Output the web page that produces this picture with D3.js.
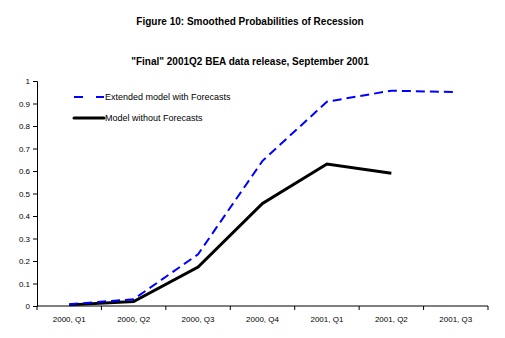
<!DOCTYPE html>
<html>
<head>
<meta charset="utf-8">
<script src="https://cdn.jsdelivr.net/npm/d3@7"></script>
<style>
  body { margin: 0; background: #fff; }
  text { font-family: "Liberation Sans", Arial, sans-serif; }
</style>
</head>
<body>
<svg id="chart" width="505" height="338"></svg>
<script>
// quarters on the x axis
const quarters = ["2000, Q1", "2000, Q2", "2000, Q3", "2000, Q4", "2001, Q1", "2001, Q2", "2001, Q3"];
// smoothed probabilities
const extendedModel = [0.008, 0.03, 0.23, 0.645, 0.908, 0.957, 0.951];
const modelNoForecast = [0.005, 0.02, 0.173, 0.456, 0.631, 0.59, null];
const yTicks = [0, 0.1, 0.2, 0.3, 0.4, 0.5, 0.6, 0.7, 0.8, 0.9, 1];

const svg = d3.select("#chart");
const plotLeft = 37, plotRight = 488, plotTop = 81, plotBottom = 306;

const x = d3.scaleBand().domain(quarters).range([plotLeft, plotRight]);
const y = d3.scaleLinear().domain([0, 1]).range([plotBottom, plotTop]);

// titles
svg.append("text").attr("x", 250).attr("y", 25).attr("text-anchor", "middle")
  .attr("font-size", 10).attr("font-weight", "bold")
  .text("Figure 10: Smoothed Probabilities of Recession");
svg.append("text").attr("x", 250).attr("y", 65).attr("text-anchor", "middle")
  .attr("font-size", 10).attr("font-weight", "bold")
  .text("\"Final\" 2001Q2 BEA data release, September 2001");

// y axis
const yAxis = svg.append("g").attr("transform", `translate(${plotLeft},0)`)
  .call(d3.axisLeft(y).tickValues(yTicks).tickSize(4).tickFormat(d3.format("")));
yAxis.select(".domain").attr("stroke", "#000");
yAxis.selectAll("text").attr("font-size", 8).attr("fill", "#000");

// x axis, ticks at band edges
const xAxis = svg.append("g").attr("transform", `translate(0,${plotBottom})`);
xAxis.append("line").attr("x1", plotLeft).attr("x2", plotRight).attr("stroke", "#000");
const edges = quarters.map(q => x(q)).concat([plotRight]);
xAxis.selectAll(".tk").data(edges).join("line")
  .attr("x1", d => d).attr("x2", d => d).attr("y1", 0).attr("y2", 4)
  .attr("stroke", "#000");
xAxis.selectAll(".lbl").data(quarters).join("text")
  .attr("x", d => x(d) + x.bandwidth() / 2).attr("y", 16)
  .attr("text-anchor", "middle").attr("font-size", 8)
  .text(d => d);

const line = d3.line()
  .defined(d => d != null)
  .x((d, i) => x(quarters[i]) + x.bandwidth() / 2)
  .y(d => y(d));

svg.append("path").datum(modelNoForecast).attr("d", line)
  .attr("fill", "none").attr("stroke", "#000").attr("stroke-width", 3);
svg.append("path").datum(extendedModel).attr("d", line)
  .attr("fill", "none").attr("stroke", "#0000ff").attr("stroke-width", 2)
  .attr("stroke-dasharray", "9,5");

// legend
const legend = svg.append("g");
legend.append("line").attr("x1", 74).attr("x2", 104).attr("y1", 97).attr("y2", 97)
  .attr("stroke", "#0000ff").attr("stroke-width", 2).attr("stroke-dasharray", "9,13");
legend.append("text").attr("x", 105).attr("y", 100).attr("font-size", 9)
  .text("Extended model with Forecasts");
legend.append("line").attr("x1", 74).attr("x2", 104).attr("y1", 118).attr("y2", 118)
  .attr("stroke", "#000").attr("stroke-width", 3).attr("stroke-linecap", "round");
legend.append("text").attr("x", 105).attr("y", 121).attr("font-size", 9)
  .text("Model without Forecasts");
</script>
</body>
</html>
